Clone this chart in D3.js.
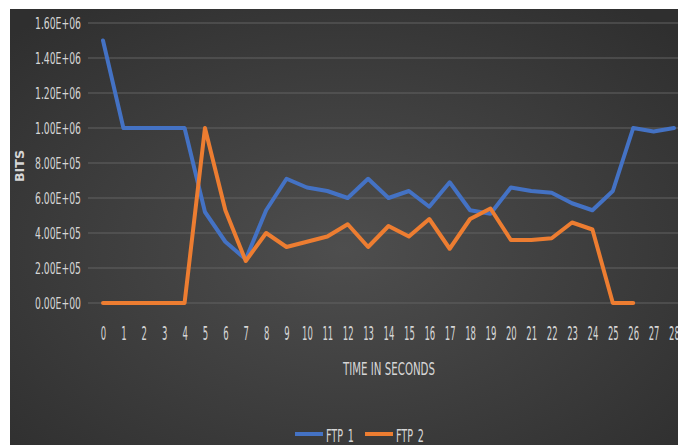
<!DOCTYPE html>
<html>
<head>
<meta charset="utf-8">
<script src="https://cdn.jsdelivr.net/npm/d3@7/dist/d3.min.js"></script>
<style>
  html, body { margin: 0; padding: 0; background: #ffffff; }
  svg { display: block; }
  text { font-family: "Liberation Sans Narrow", "DejaVu Sans Condensed", "Liberation Sans", sans-serif; }
</style>
</head>
<body>
<svg id="chart" width="678" height="445"></svg>
<script>
// Seconds on the x axis
const seconds = d3.range(0, 29);
// Throughput per flow, in bits
const ftp1 = [1500000, 1000000, 1000000, 1000000, 1000000, 520000, 350000, 250000, 530000, 710000,
              660000, 640000, 600000, 710000, 600000, 640000, 550000, 690000, 530000, 510000,
              660000, 640000, 630000, 570000, 530000, 640000, 1000000, 980000, 1000000];
const ftp2 = [0, 0, 0, 0, 0, 1000000, 530000, 240000, 400000, 320000,
              350000, 380000, 450000, 320000, 440000, 380000, 480000, 310000, 480000, 540000,
              360000, 360000, 370000, 460000, 420000, 0, 0];
const yTicks = [0, 200000, 400000, 600000, 800000, 1000000, 1200000, 1400000, 1600000];
const seriesNames = ["FTP_1", "FTP_2"];
const seriesColors = ["#4472C4", "#ED7D31"];

const svg = d3.select("#chart");
const W = 678, H = 445;

// Dark panel with a soft radial shading
const defs = svg.append("defs");
const grad = defs.append("radialGradient").attr("id", "bg")
  .attr("cx", "50%").attr("cy", "55%").attr("r", "70%");
grad.append("stop").attr("offset", "0%").attr("stop-color", "#4e4e4e");
grad.append("stop").attr("offset", "100%").attr("stop-color", "#2f2f2f");
svg.append("rect").attr("x", 10).attr("y", 9).attr("width", W - 10).attr("height", H - 9)
  .attr("fill", "url(#bg)");

const x = d3.scalePoint().domain(seconds).range([103, 674]);
const y = d3.scaleLinear().domain([0, 1600000]).range([303, 23]);

// Horizontal gridlines
svg.append("g").selectAll("line").data(yTicks).join("line")
  .attr("x1", 88).attr("x2", W)
  .attr("y1", d => y(d)).attr("y2", d => y(d))
  .attr("stroke", "#626262").attr("stroke-width", 1);

// Y axis labels
const fmt = v => {
  const e = v === 0 ? 0 : Math.floor(Math.log10(v));
  const m = v === 0 ? 0 : v / Math.pow(10, e);
  return m.toFixed(2) + "E+" + String(e).padStart(2, "0");
};
const yAxis = svg.append("g").attr("transform", "translate(81,0)")
  .call(d3.axisLeft(y).tickValues(yTicks).tickFormat(fmt).tickSize(0).tickPadding(0));
yAxis.select(".domain").remove();
yAxis.selectAll("text")
  .attr("fill", "#d6d6d6").attr("font-size", 16).attr("dy", "0.36em")
  .attr("textLength", 46).attr("lengthAdjust", "spacingAndGlyphs");

// X axis labels
const xAxis = svg.append("g").attr("transform", "translate(0,326)")
  .call(d3.axisBottom(x).tickSize(0).tickPadding(0));
xAxis.select(".domain").remove();
xAxis.selectAll("text")
  .attr("fill", "#d6d6d6").attr("font-size", 19).attr("dy", "0.71em")
  .attr("textLength", d => String(d).length * 5.4).attr("lengthAdjust", "spacingAndGlyphs");

// Axis titles
svg.append("text").attr("x", 389).attr("y", 375).attr("text-anchor", "middle")
  .attr("fill", "#d6d6d6").attr("font-size", 18)
  .attr("textLength", 92).attr("lengthAdjust", "spacingAndGlyphs")
  .text("TIME IN SECONDS");
svg.append("text").attr("transform", "translate(24,166) rotate(-90)").attr("text-anchor", "middle")
  .attr("fill", "#d6d6d6").attr("font-size", 12).attr("font-weight", "bold")
  .attr("textLength", 32).attr("lengthAdjust", "spacingAndGlyphs")
  .text("BITS");

// Series lines
const line = d3.line().x((d, i) => x(seconds[i])).y(d => y(d));
[ftp1, ftp2].forEach((s, k) => {
  svg.append("path").datum(s)
    .attr("d", line)
    .attr("fill", "none")
    .attr("stroke", seriesColors[k])
    .attr("stroke-width", 4)
    .attr("stroke-linejoin", "round")
    .attr("stroke-linecap", "round");
});

// Legend
const legend = svg.append("g");
const legendX = [295, 365];
seriesNames.forEach((name, k) => {
  legend.append("line")
    .attr("x1", legendX[k]).attr("x2", legendX[k] + 28)
    .attr("y1", 434).attr("y2", 434)
    .attr("stroke", seriesColors[k]).attr("stroke-width", 4);
  legend.append("text")
    .attr("x", legendX[k] + 31).attr("y", 442)
    .attr("fill", "#d6d6d6").attr("font-size", 18)
    .attr("textLength", 28).attr("lengthAdjust", "spacingAndGlyphs")
    .text(name);
});
</script>
</body>
</html>
